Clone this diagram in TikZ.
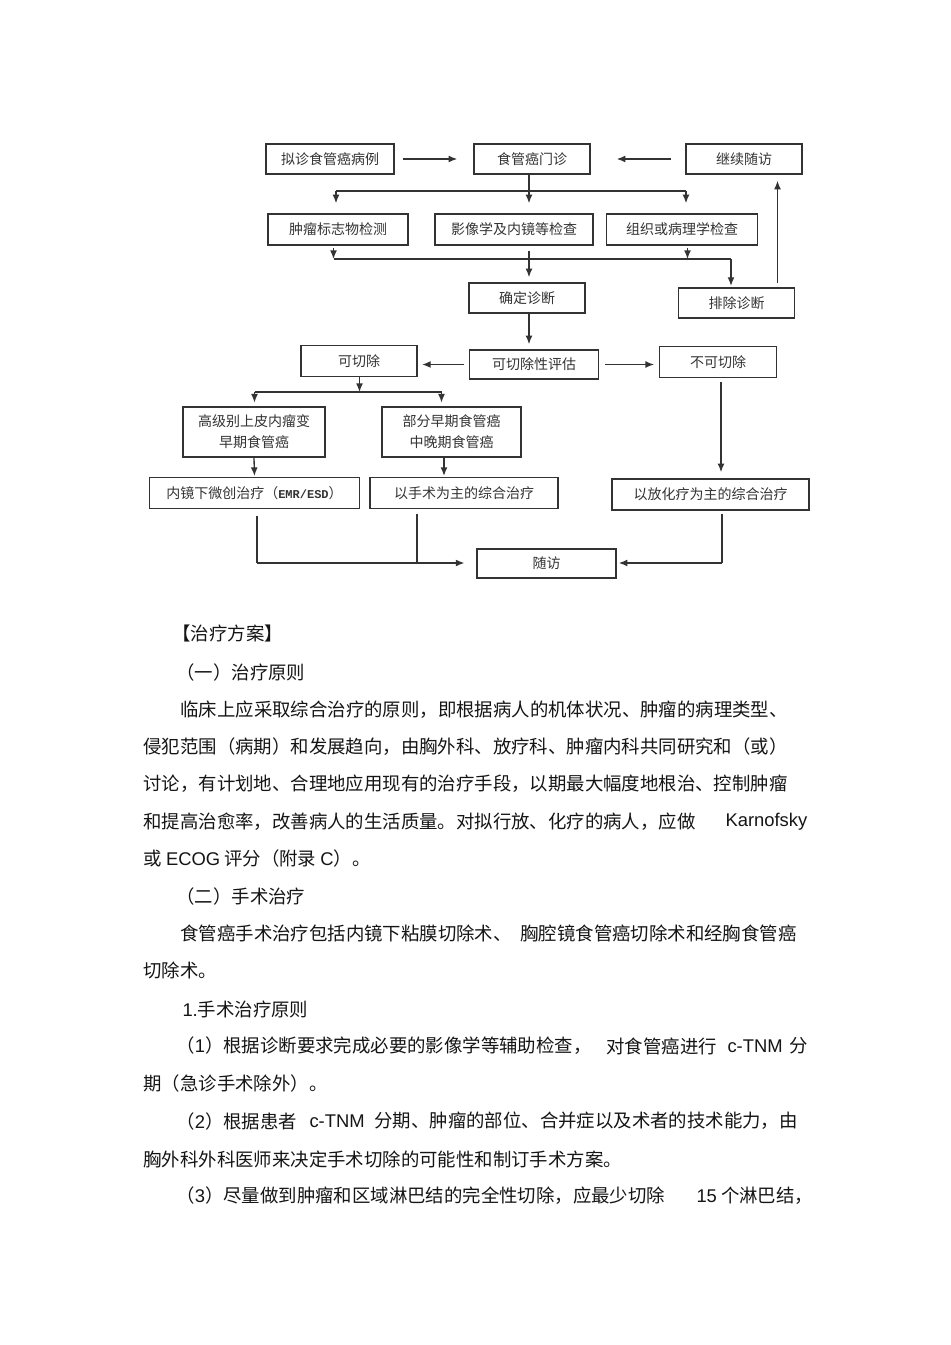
\documentclass[tikz,border=0pt]{standalone}
\usepackage{fontspec}
\setmainfont{Noto Sans CJK SC}
\newfontfamily\lat{Liberation Sans}
\newfontfamily\mono{Liberation Mono}
\usetikzlibrary{arrows.meta}

\definecolor{inkgray}{HTML}{333333}
\definecolor{textblack}{HTML}{151515}

\tikzset{every picture/.style={line width=0.75pt}}
\tikzset{
  box/.style={draw=inkgray, line width=1.1pt, text=inkgray, inner sep=0pt, minimum height=22.5pt,
    align=center, font=\fontsize{10.5}{15.75}\selectfont},
  link/.style={draw=inkgray, line width=1pt},
  arr/.style={link, -{Latex[length=6.5pt,width=5.2pt]}},
  para/.style={anchor=west, inner sep=0pt, text=textblack, font=\fontsize{13.8}{16}\selectfont}
}

\begin{document}
\begin{tikzpicture}[x=0.75pt,y=0.75pt,yscale=-1,xscale=1]
%set diagram left start at 0, and has height of 1345
\fill[white] (0,0) rectangle (950,1345);
\path[use as bounding box] (0,0) rectangle (950,1345);

% Text Node
\node[box, minimum width=96pt] (nizhen) at (330,159) {拟诊食管癌病例};
% Text Node
\node[box, minimum width=87pt] (menzhen) at (532,159) {食管癌门诊};
% Text Node
\node[box, minimum width=87pt] (jixu) at (744,159) {继续随访};
% Text Node
\node[box, minimum width=105pt, minimum height=23.25pt] (zhongliu) at (338,229.5) {肿瘤标志物检测};
% Text Node
\node[box, minimum width=118.5pt, minimum height=23.25pt] (yingxiang) at (514,229.5) {影像学及内镜等检查};
% Text Node
\node[box, minimum width=113.25pt, minimum height=23.25pt] (zuzhi) at (682,229.5) {组织或病理学检查};
% Text Node
\node[box, minimum width=87pt] (queding) at (527,298) {确定诊断};
% Text Node
\node[box, minimum width=87pt] (paichu) at (736.5,303) {排除诊断};
% Text Node
\node[box, minimum width=96.75pt, minimum height=21.75pt] (pinggu) at (534,364.5) {可切除性评估};
% Text Node
\node[box, minimum width=87pt, minimum height=23.25pt] (keqie) at (359,361) {可切除};
% Text Node
\node[box, minimum width=88pt, minimum height=23.25pt] (bukeqie) at (718,362) {不可切除};
% Text Node
\node[box, minimum width=106.5pt, minimum height=37.5pt] (gaoji) at (254,432) {高级别上皮内瘤变\\早期食管癌};
% Text Node
\node[box, minimum width=104pt, minimum height=37.5pt] (bufen) at (451.5,432) {部分早期食管癌\\中晚期食管癌};
% Text Node
\node[box, minimum width=157.5pt, minimum height=22.9pt] (neijing) at (254.5,493) {内镜下微创治疗（{\mono\bfseries\fontsize{9}{10}\selectfont EMR/ESD}）};
% Text Node
\node[box, minimum width=141pt, minimum height=22.9pt] (shoushu) at (464,493) {以手术为主的综合治疗};
% Text Node
\node[box, minimum width=147.75pt, minimum height=23.25pt] (fanghua) at (710.5,494.5) {以放化疗为主的综合治疗};
% Text Node
\node[box, minimum width=104.25pt, minimum height=21.75pt] (suifang) at (546.5,563.5) {随访};

% junction points
\coordinate (ja) at (336,191);
\coordinate (jb) at (529,191);
\coordinate (jc) at (686,191);
\coordinate (jd) at (333.5,259);
\coordinate (je) at (687.5,259);
\coordinate (jf) at (731,259);
\coordinate (jg) at (777.5,283);
\coordinate (jh) at (359.5,392);
\coordinate (ji) at (254.5,392);
\coordinate (jj) at (441.5,392);
\coordinate (jk) at (444,457);
\coordinate (jl) at (721,430);
\coordinate (jm) at (257,563);
\coordinate (jn) at (417,563);
\coordinate (jo) at (722,563);

%Straight Lines
\draw[arr, shorten <=6pt, shorten >=12pt] (nizhen) -- (menzhen);
%Straight Lines
\draw[arr, shorten <=10.5pt, shorten >=19.5pt] (jixu) -- (menzhen);
%Straight Lines
\draw[link] (jb |- menzhen.south) -- (jb);
\draw[link] (ja) -- (jc);
\draw[arr, shorten >=7.5pt] (ja) -- (ja |- zhongliu.north);
\draw[arr, shorten >=7.5pt] (jb) -- (jb |- yingxiang.north);
\draw[arr, shorten >=7.5pt] (jc) -- (jc |- zuzhi.north);
%Straight Lines
\draw[arr, shorten <=1.5pt] (jd |- zhongliu.south) -- (jd);
\draw[arr, shorten <=1.5pt] (je |- zuzhi.south) -- (je);
\draw[link] (jd) -- (jf);
\draw[arr, shorten >=1pt] (jf) -- (jf |- paichu.north);
\draw[arr, shorten <=3.75pt, shorten >=3.75pt] (jb |- yingxiang.south) -- (jb |- queding.north);
%Straight Lines
\draw[arr, shorten >=4.5pt] (jg) -- (jg |- jixu.south);
%Straight Lines
\draw[arr, shorten >=3.75pt] (jb |- queding.south) -- (jb |- pinggu.north);
\draw[arr, shorten <=3.5pt, shorten >=3.25pt] (pinggu.west) -- (pinggu.west -| keqie.east);
\draw[arr, shorten <=4.2pt, shorten >=3.4pt] (pinggu.east) -- (pinggu.east -| bukeqie.west);
%Straight Lines
\draw[arr] (jh |- keqie.south) -- (jh);
\draw[link] (ji) -- (jj);
\draw[arr, shorten >=2.75pt] (ji) -- (ji |- gaoji.north);
\draw[arr, shorten >=2.75pt] (jj) -- (jj |- bufen.north);
\draw[arr, shorten >=0.75pt] (gaoji.south) -- (neijing.north);
\draw[arr, shorten >=0.75pt] (jk) -- (jk |- shoushu.north);
\draw[arr, shorten <=3pt, shorten >=4.5pt] (jl |- bukeqie.south) -- (jl |- fanghua.north);
%Straight Lines
\draw[link, shorten <=5.25pt] (jm |- neijing.south) -- (jm);
\draw[arr, shorten >=8.85pt] (jm) -- (jm -| suifang.west);
\draw[link, shorten <=3.5pt] (jn |- shoushu.south) -- (jn);
\draw[link, shorten <=2.25pt] (jo |- fanghua.south) -- (jo);
\draw[arr, shorten >=1.5pt] (jo) -- (jo -| suifang.east);

% Text Node
\node[para] (fa) at (172,634) {【治疗方案】};
% Text Node
\node[para] (yi) at (176,672) {（一）治疗原则};
% Text Node
\node[para] (pa1) at (180,710) {临床上应采取综合治疗的原则，即根据病人的机体状况、肿瘤的病理类型、};
% Text Node
\node[para] (pa2) at (143,747) {侵犯范围（病期）和发展趋向，由胸外科、放疗科、肿瘤内科共同研究和（或）};
% Text Node
\node[para] (pa3) at (143,784) {讨论，有计划地、合理地应用现有的治疗手段，以期最大幅度地根治、控制肿瘤};
% Text Node
\node[para] (pa4) at (143,822) {和提高治愈率，改善病人的生活质量。对拟行放、化疗的病人，应做};
% Text Node
\node[para] (pa4b) at (725,822) {\lat Karnofsky};
% Text Node
\node[para] (pa5) at (143,858) {或 {\lat ECOG} 评分（附录 {\lat C}）。};
% Text Node
\node[para] (er) at (176,896) {（二）手术治疗};
% Text Node
\node[para] (pb1) at (180,933) {食管癌手术治疗包括内镜下粘膜切除术、};
% Text Node
\node[para] (pb1b) at (520,933) {胸腔镜食管癌切除术和经胸食管癌};
% Text Node
\node[para] (pb2) at (143,970) {切除术。};
% Text Node
\node[para] (yuanze) at (182,1009) {{\lat 1.}手术治疗原则};
% Text Node
\node[para] (pc1) at (176,1046) {（{\lat 1}）根据诊断要求完成必要的影像学等辅助检查，};
% Text Node
\node[para] (pc1b) at (606,1046) {对食管癌进行};
% Text Node
\node[para] (pc1c) at (727,1046) {\lat c-TNM};
% Text Node
\node[para] (pc1d) at (789,1046) {分};
% Text Node
\node[para] (pc2) at (143,1083) {期（急诊手术除外）。};
% Text Node
\node[para] (pd1) at (176,1121) {（{\lat 2}）根据患者};
% Text Node
\node[para] (pd1b) at (309,1121) {\lat c-TNM};
% Text Node
\node[para] (pd1c) at (374,1121) {分期、肿瘤的部位、合并症以及术者的技术能力，由};
% Text Node
\node[para] (pd2) at (143,1159) {胸外科外科医师来决定手术切除的可能性和制订手术方案。};
% Text Node
\node[para] (pe1) at (176,1196) {（{\lat 3}）尽量做到肿瘤和区域淋巴结的完全性切除，应最少切除};
% Text Node
\node[para] (pe1b) at (696,1196) {{\lat 15} 个淋巴结，};

\end{tikzpicture}
\end{document}
